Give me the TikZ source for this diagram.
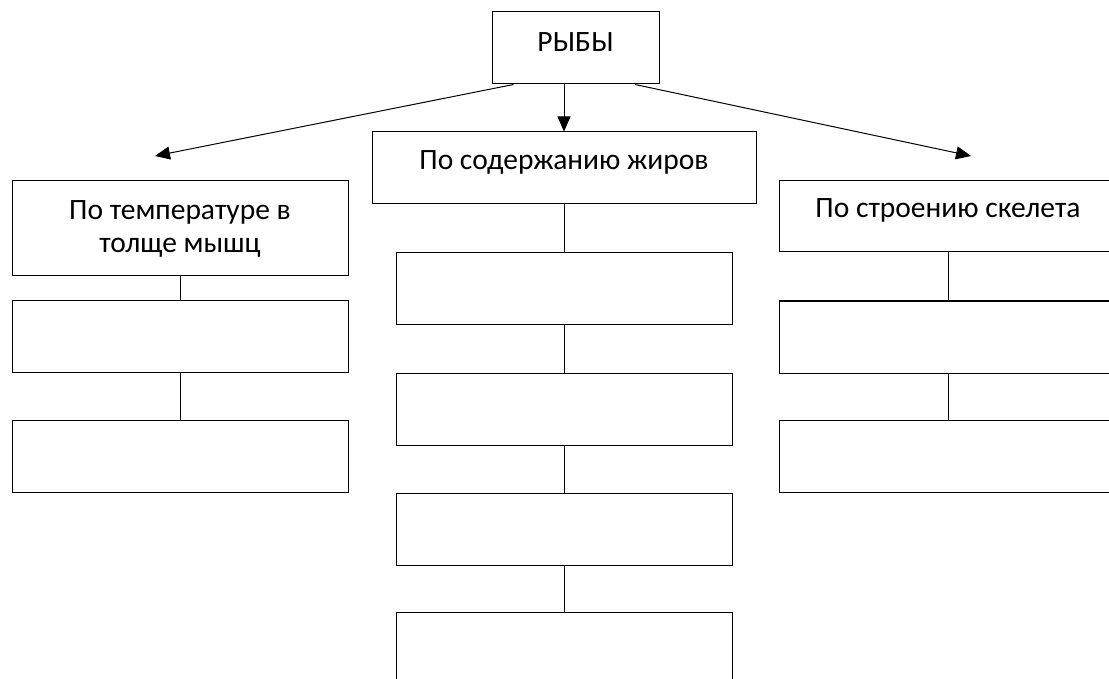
\documentclass[tikz,border=0pt]{standalone}
\usepackage{fontspec}
\setmainfont{Carlito}
\usetikzlibrary{arrows.meta}
\begin{document}
\begin{tikzpicture}[x=1pt,y=-1pt,
  box/.style={draw=black,line width=1pt,rectangle,inner sep=0pt},
  lbl/.style={anchor=base,inner sep=0pt,font=\fontsize{29.5}{33}\selectfont,align=center},
  conn/.style={draw=black,line width=1pt},
  arr/.style={draw=black,line width=1pt,-{Triangle[length=15pt,width=13pt]}}]
\useasboundingbox (0,0) rectangle (1109,679);
\clip (0,0) rectangle (1109,679);
% boxes
\node[box,minimum width=167pt,minimum height=72pt] (tb) at (575.5,48) {};
\node[box,minimum width=384pt,minimum height=72pt] (mh) at (564,168) {};
\node[box,minimum width=336pt,minimum height=95pt] (lh) at (180,228.5) {};
\node[box,minimum width=338pt,minimum height=71pt] (rh) at (948,216.5) {};
\node[box,minimum width=336pt,minimum height=71pt] (l1) at (180,336.5) {};
\node[box,minimum width=336pt,minimum height=72pt] (l2) at (180,456) {};
\node[box,minimum width=338pt,minimum height=72pt] (r1) at (948,337) {};
\node[box,minimum width=338pt,minimum height=72pt] (r2) at (948,456) {};
\node[box,minimum width=336pt,minimum height=71pt] (m1) at (564,288.5) {};
\node[box,minimum width=336pt,minimum height=72pt] (m2) at (564,409) {};
\node[box,minimum width=336pt,minimum height=72pt] (m3) at (564,529) {};
\node[box,minimum width=336pt,minimum height=72pt] (m4) at (564,648) {};
% texts
\node[lbl] (ttb) at (575.5,52) {РЫБЫ};
\node[lbl] (tmh) at (564,170) {По содержанию жиров};
\node[lbl] (trh) at (948,218) {По строению скелета};
\node[lbl] (tlh1) at (180,220) {По температуре в};
\node[lbl] (tlh2) at (180,253) {толще мышц};
% arrow ends
\coordinate (al) at (155,156);
\coordinate (ar) at (971,156);
% arrows
\draw[arr] ([xshift=-62pt]tb.south) -- (al);
\draw[arr] (tb.south -| mh.north) -- (mh.north);
\draw[arr] ([xshift=59.5pt]tb.south) -- (ar);
% connectors
\draw[conn] (lh.south) -- (l1.north);
\draw[conn] (l1.south) -- (l2.north);
\draw[conn] (rh.south) -- (r1.north);
\draw[conn] (r1.south) -- (r2.north);
\draw[conn] (mh.south) -- (m1.north);
\draw[conn] (m1.south) -- (m2.north);
\draw[conn] (m2.south) -- (m3.north);
\draw[conn] (m3.south) -- (m4.north);
\end{tikzpicture}
\end{document}
